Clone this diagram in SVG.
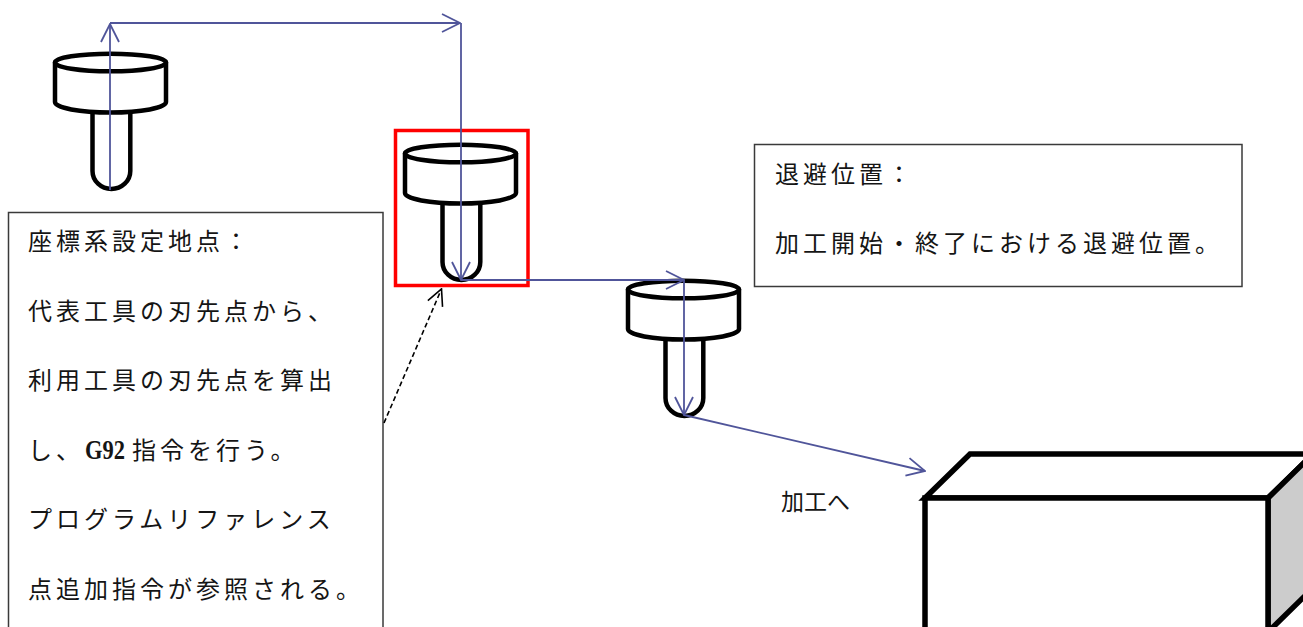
<svg xmlns="http://www.w3.org/2000/svg" xmlns:xlink="http://www.w3.org/1999/xlink" width="1303" height="627" viewBox="0 0 1303 627">
  <style>
    .tool { fill: #ffffff; stroke: #000000; stroke-width: 4.5; stroke-linejoin: round; }
    .note { fill: #ffffff; stroke: #3a3a3a; stroke-width: 1.5; }
    .txt { font-family: "Noto Sans CJK JP", "Liberation Serif", serif; font-size: 24px; letter-spacing: 4px; fill: #151515; }
    .latin { font-family: "Liberation Serif", "Noto Sans CJK JP", serif; font-size: 27px; font-weight: bold; letter-spacing: 0px; }
    .path { fill: none; stroke: #50559a; stroke-width: 1.8; }
    .lead { fill: none; stroke: #000000; stroke-width: 1.6; stroke-dasharray: 5 3; }
    .block { stroke: #000000; stroke-width: 5.5; stroke-linejoin: miter; }
  </style>
  <defs>
    <!-- end mill: shank, cylindrical holder, top rim -->
    <g id="endmill">
      <path class="tool" d="M92.5,110 L92.5,171 A18.9,18 0 0 0 130.3,171 L130.3,110"/>
      <path class="tool" d="M55,62.5 L55,102 A55.5,10.5 0 0 0 166,102 L166,62.5 Z"/>
      <ellipse class="tool" cx="110.5" cy="62.5" rx="55.5" ry="8.8"/>
    </g>
    <marker id="arrowBlue" viewBox="0 0 20 20" refX="19" refY="10" markerWidth="20" markerHeight="20" markerUnits="userSpaceOnUse" orient="auto">
      <path d="M1,1 L19,10 L1,19" fill="none" stroke="#50559a" stroke-width="1.8"/>
    </marker>
    <marker id="arrowBlack" viewBox="0 0 20 20" refX="19" refY="10" markerWidth="20" markerHeight="20" markerUnits="userSpaceOnUse" orient="auto">
      <path d="M3,2 L19,10 L3,18" fill="none" stroke="#000000" stroke-width="1.6"/>
    </marker>
  </defs>

  <rect width="1303" height="627" fill="#ffffff"/>

  <!-- start tool -->
  <g id="tool-start">
    <use xlink:href="#endmill" href="#endmill"/>
  </g>

  <!-- tool at the coordinate-system set point -->
  <g id="tool-setpoint">
    <use xlink:href="#endmill" href="#endmill" transform="translate(350,91)"/>
    <rect x="395.5" y="130.5" width="132.5" height="155" fill="none" stroke="#ff0000" stroke-width="3.5"/>
  </g>

  <!-- tool at the retract position -->
  <g id="tool-retract">
    <use xlink:href="#endmill" href="#endmill" transform="translate(573,227)"/>
  </g>

  <!-- workpiece block -->
  <g id="workpiece">
    <polygon class="block" points="925,498 970,454 1313,454 1268,498" fill="#ffffff"/>
    <polygon class="block" points="1268,498 1313,454 1313,588 1268,632" fill="#cccccc"/>
    <rect class="block" x="925" y="498" width="343" height="134" fill="#ffffff"/>
  </g>

  <!-- note: coordinate-system set point -->
  <g id="note-setpoint">
    <rect class="note" x="8.5" y="212.5" width="374.5" height="430"/>
    <text class="txt" x="28" y="250">座標系設定地点：</text>
    <text class="txt" x="28" y="320">代表工具の刃先点から、</text>
    <text class="txt" x="28" y="389">利用工具の刃先点を算出</text>
    <text class="txt" y="459"><tspan x="28">し、</tspan><tspan class="latin" x="85" textLength="40" lengthAdjust="spacingAndGlyphs">G92</tspan><tspan x="132">指令を行う。</tspan></text>
    <text class="txt" x="28" y="528">プログラムリファレンス</text>
    <text class="txt" x="28" y="598">点追加指令が参照される。</text>
  </g>

  <!-- note: retract position -->
  <g id="note-retract">
    <rect class="note" x="754.5" y="144.5" width="487.5" height="142"/>
    <text class="txt" x="775" y="183">退避位置：</text>
    <text class="txt" x="775" y="251.5">加工開始・終了における退避位置。</text>
  </g>

  <!-- label: to machining -->
  <g id="label-machining">
    <text class="txt" x="781" y="510" style="letter-spacing:0px;font-size:23px">加工へ</text>
  </g>

  <!-- tool travel and leader -->
  <g id="connectors">
    <path class="path" d="M110,190 L110,24" marker-end="url(#arrowBlue)"/>
    <path class="path" d="M110,23 L460,23" marker-end="url(#arrowBlue)"/>
    <path class="path" d="M461,23 L461,280" marker-end="url(#arrowBlue)"/>
    <path class="path" d="M461,280 L684,280" marker-end="url(#arrowBlue)"/>
    <path class="path" d="M684,280 L684,415" marker-end="url(#arrowBlue)"/>
    <path class="path" d="M684,415 L925,471" marker-end="url(#arrowBlue)"/>
    <path class="lead" d="M384,423 L441.5,289" marker-end="url(#arrowBlack)"/>
  </g>
</svg>
